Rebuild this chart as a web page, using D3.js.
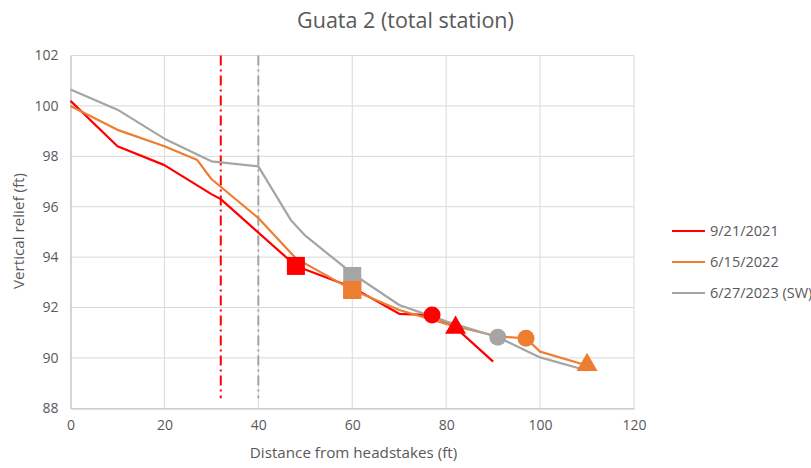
<!DOCTYPE html>
<html>
<head>
<meta charset="utf-8">
<script src="https://cdn.jsdelivr.net/npm/d3@7"></script>
<style>
  html, body { margin: 0; padding: 0; background: #fff; }
  svg { display: block; font-family: "Open Sans", Lato, sans-serif; }
</style>
</head>
<body>
<svg id="chart" width="811" height="468"></svg>
<script>
// Survey profiles: distance from headstakes (ft) vs. vertical relief (ft)
const dist2021 = [0, 10, 20, 30, 32, 48, 60, 70, 77, 82, 90];
const elev2021 = [100.2, 98.4, 97.65, 96.5, 96.3, 93.65, 92.8, 91.75, 91.7, 91.2, 89.85];

const dist2022 = [0, 10, 20, 27, 30, 40, 48, 60, 70, 80, 91, 97, 100, 110];
const elev2022 = [100.0, 99.05, 98.4, 97.85, 97.1, 95.55, 93.95, 92.7, 91.9, 91.35, 90.85, 90.78, 90.25, 89.7];

const dist2023 = [0, 10, 20, 30, 40, 47, 50, 60, 70, 80, 91, 100, 110];
const elev2023 = [100.65, 99.85, 98.7, 97.8, 97.6, 95.45, 94.85, 93.35, 92.1, 91.45, 90.82, 90.02, 89.5];

// Highlighted points on each profile
const squareX = [48, 60, 60];
const squareY = [93.65, 92.7, 93.25];
const circleX = [77, 97, 91];
const circleY = [91.7, 90.78, 90.82];
const triangleX = [82, 110];
const triangleY = [91.2, 89.72];
const triangleSeries = [0, 1];

const seriesNames = ["9/21/2021", "6/15/2022", "6/27/2023 (SW)"];
const seriesColors = ["#ff0000", "#ed7d31", "#a5a5a5"];

// Reference verticals (dash-dot)
const refX = [32, 40];
const refColors = ["#ff0000", "#a5a5a5"];

const xTicks = [0, 20, 40, 60, 80, 100, 120];
const yTicks = [88, 90, 92, 94, 96, 98, 100, 102];

const svg = d3.select("#chart");
const x = d3.scaleLinear().domain([0, 120]).range([70.5, 634]);
const y = d3.scaleLinear().domain([88, 102]).range([408.3, 55.5]);

const textColor = "#595959";
const gridColor = "#d9d9d9";
const font = "'Open Sans', Lato, sans-serif";

// Gridlines
svg.append("g")
  .selectAll("line").data(yTicks.slice(1)).join("line")
  .attr("x1", x(0)).attr("x2", x(120))
  .attr("y1", d => y(d)).attr("y2", d => y(d))
  .attr("stroke", gridColor).attr("stroke-width", 1);
svg.append("g")
  .selectAll("line").data(xTicks.slice(1)).join("line")
  .attr("x1", d => x(d)).attr("x2", d => x(d))
  .attr("y1", y(88)).attr("y2", y(102))
  .attr("stroke", gridColor).attr("stroke-width", 1);

// Axes
const xAxis = svg.append("g")
  .attr("transform", `translate(0,${y(88)})`)
  .call(d3.axisBottom(x).tickValues(xTicks).tickSize(0).tickPadding(12));
const yAxis = svg.append("g")
  .attr("transform", `translate(${x(0)},0)`)
  .call(d3.axisLeft(y).tickValues(yTicks).tickSize(0).tickPadding(12));
[xAxis, yAxis].forEach(g => {
  g.select(".domain").attr("stroke", "#bfbfbf").attr("stroke-width", 1.3);
  g.selectAll("text").attr("fill", textColor).attr("font-size", 14)
    .attr("font-family", font);
});

// Reference verticals
svg.append("g").selectAll("line").data(refX).join("line")
  .attr("x1", d => x(d)).attr("x2", d => x(d))
  .attr("y1", y(102)).attr("y2", y(88.4))
  .attr("stroke", (d, i) => refColors[i])
  .attr("stroke-width", 2)
  .attr("stroke-dasharray", "10,4,2,4");

// Profile lines
const line = d3.line().x(d => x(d[0])).y(d => y(d[1]));
const series = [
  d3.zip(dist2021, elev2021),
  d3.zip(dist2022, elev2022),
  d3.zip(dist2023, elev2023)
];
svg.append("g").selectAll("path").data(series).join("path")
  .attr("d", line)
  .attr("fill", "none")
  .attr("stroke", (d, i) => seriesColors[i])
  .attr("stroke-width", 2.2)
  .attr("stroke-linejoin", "round");

// Markers
const mk = svg.append("g");
squareX.forEach((sx, i) => {
  mk.append("path")
    .attr("d", d3.symbol(d3.symbolSquare, 324)())
    .attr("transform", `translate(${x(sx)},${y(squareY[i])})`)
    .attr("fill", seriesColors[i]);
});
// orange square sits on top of the gray one at 60 ft
mk.append("path")
  .attr("d", d3.symbol(d3.symbolSquare, 324)())
  .attr("transform", `translate(${x(squareX[1])},${y(squareY[1])})`)
  .attr("fill", seriesColors[1]);
circleX.forEach((cx, i) => {
  mk.append("circle")
    .attr("cx", x(cx)).attr("cy", y(circleY[i])).attr("r", 8.5)
    .attr("fill", seriesColors[i]);
});
triangleX.forEach((tx, i) => {
  mk.append("path")
    .attr("d", d3.symbol(d3.symbolTriangle, 190)())
    .attr("transform", `translate(${x(tx)},${y(triangleY[i])})`)
    .attr("fill", seriesColors[triangleSeries[i]]);
});

// Title and axis titles
svg.append("text")
  .attr("x", 405.5).attr("y", 28)
  .attr("text-anchor", "middle")
  .attr("font-size", 21.5).attr("fill", textColor)
  .text("Guata 2 (total station)");
svg.append("text")
  .attr("x", 353.5).attr("y", 458)
  .attr("text-anchor", "middle")
  .attr("font-size", 15.2).attr("fill", textColor)
  .text("Distance from headstakes (ft)");
svg.append("text")
  .attr("transform", `translate(24,231) rotate(-90)`)
  .attr("text-anchor", "middle")
  .attr("font-size", 15.2).attr("fill", textColor)
  .text("Vertical relief (ft)");

// Legend
const lg = svg.append("g").selectAll("g").data(seriesNames).join("g")
  .attr("transform", (d, i) => `translate(672,${231 + i * 31})`);
lg.append("line")
  .attr("x1", 0).attr("x2", 33).attr("y1", 0).attr("y2", 0)
  .attr("stroke", (d, i) => seriesColors[i]).attr("stroke-width", 2.2);
lg.append("text")
  .attr("x", 38).attr("y", 0).attr("dy", "0.35em")
  .attr("font-size", 14.5).attr("fill", textColor)
  .attr("font-family", font)
  .text(d => d);
</script>
</body>
</html>
